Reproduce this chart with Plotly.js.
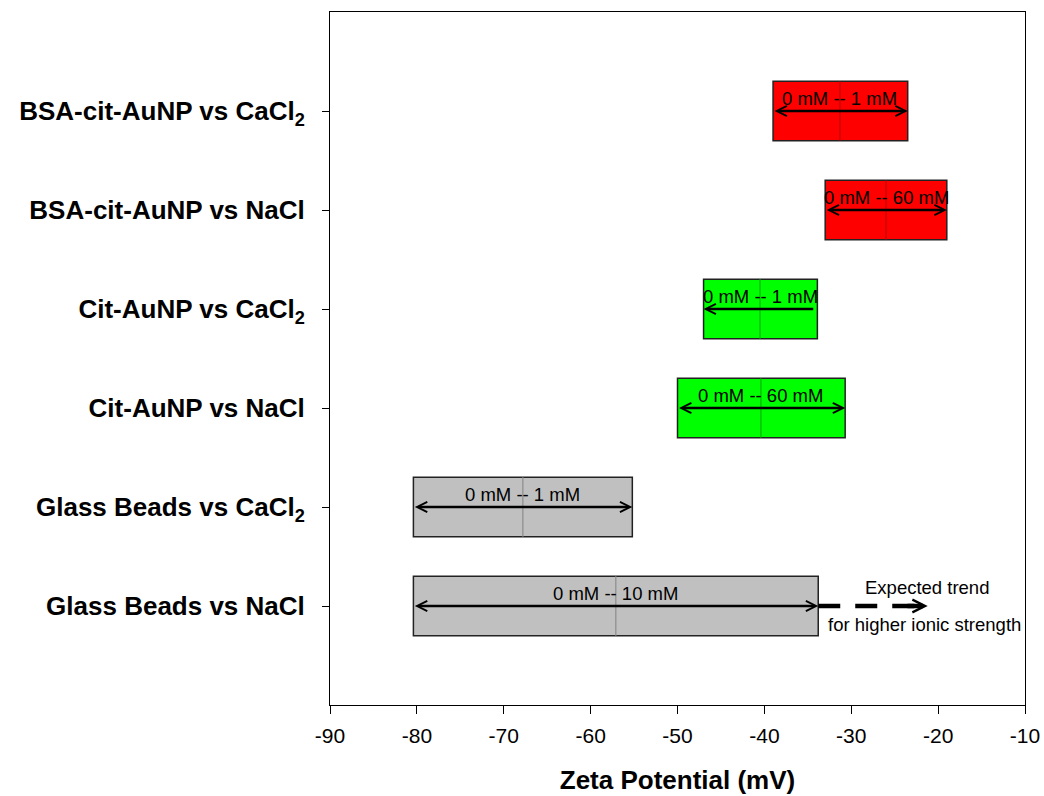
<!DOCTYPE html>
<html>
<head>
<meta charset="utf-8">
<script src="https://cdn.plot.ly/plotly-3.0.1.min.js"></script>
<style>
  html, body { margin: 0; padding: 0; background: #fff; }
  #chart { width: 1044px; height: 796px; }
</style>
</head>
<body>
<div id="chart"></div>
<script>
// Zeta potential ranges for each particle / salt pair (mV), bottom row first
const categories = [
  'Glass Beads vs NaCl',
  'Glass Beads vs CaCl<sub>2</sub>',
  'Cit-AuNP vs NaCl',
  'Cit-AuNP vs CaCl<sub>2</sub>',
  'BSA-cit-AuNP vs NaCl',
  'BSA-cit-AuNP vs CaCl<sub>2</sub>'
];
const zetaLow  = [-80.4, -80.4, -50.0, -47.0, -33.0, -39.0];
const zetaHigh = [-33.8, -55.2, -30.7, -33.9, -19.0, -23.5];
const zetaMid  = [-57.1, -67.8, -40.4, -40.5, -26.0, -31.3];
const rangeLabels = ['0 mM -- 10 mM', '0 mM -- 1 mM', '0 mM -- 60 mM',
                     '0 mM -- 1 mM', '0 mM -- 60 mM', '0 mM -- 1 mM'];
// true = shift runs both ways, false = only towards more negative values
const twoWay = [true, true, true, false, true, true];
// projected trend for the glass beads beyond 10 mM NaCl
const trendFrom = [-33.8];
const trendTo   = [-21.2];
const xTicks = [-90, -80, -70, -60, -50, -40, -30, -20, -10];

const fillColors = ['#c0c0c0', '#c0c0c0', '#00ff00', '#00ff00', '#ff0000', '#ff0000'];
const midColors  = ['#8c8c8c', '#8c8c8c', '#00b400', '#00b400', '#c00000', '#c00000'];

const FONT = 'Arial, Liberation Sans, sans-serif';
const pos = categories.map((_, i) => i);
const barW = 0.6;

const traces = [{
  type: 'bar',
  orientation: 'h',
  y: pos,
  base: zetaLow,
  x: zetaHigh.map((h, i) => h - zetaLow[i]),
  width: barW,
  marker: { color: fillColors, line: { color: '#222', width: 1.5 } },
  hoverinfo: 'skip'
}];

// centre line of every box
pos.forEach((p, i) => {
  traces.push({
    type: 'scatter', mode: 'lines',
    x: [zetaMid[i], zetaMid[i]],
    y: [p - barW / 2, p + barW / 2],
    line: { color: midColors[i], width: 1.2 },
    hoverinfo: 'skip'
  });
});

// dashed trend line
traces.push({
  type: 'scatter', mode: 'lines',
  x: [trendFrom[0], trendTo[0] - 1.0],
  y: [0, 0],
  line: { color: '#000', width: 4.5, dash: '22px,15px' },
  hoverinfo: 'skip'
});

const annotations = [];
pos.forEach((p, i) => {
  // range arrow across the box
  annotations.push({
    x: twoWay[i] ? zetaHigh[i] : zetaLow[i],
    y: p,
    ax: twoWay[i] ? zetaLow[i] : zetaHigh[i] - 0.3,
    ay: p,
    xref: 'x', yref: 'y', axref: 'x', ayref: 'y',
    text: '',
    showarrow: true,
    arrowhead: 5, arrowsize: 0.8, arrowwidth: 2.5,
    startarrowhead: 5, startarrowsize: 0.8,
    arrowside: twoWay[i] ? 'end+start' : 'end',
    arrowcolor: '#000'
  });
  // concentration range text
  annotations.push({
    x: zetaMid[i], y: p, xref: 'x', yref: 'y',
    text: rangeLabels[i],
    showarrow: false,
    yshift: 13,
    font: { family: FONT, size: 18.5, color: '#000' }
  });
});

// head of the trend arrow
annotations.push({
  x: trendTo[0], y: 0, ax: trendTo[0] - 2.5, ay: 0,
  xref: 'x', yref: 'y', axref: 'x', ayref: 'y',
  text: '', showarrow: true,
  arrowhead: 5, arrowsize: 0.55, arrowwidth: 4.5, arrowcolor: '#000'
});
annotations.push({
  x: -21.3, y: 0, xref: 'x', yref: 'y', text: 'Expected trend',
  showarrow: false, yshift: 19,
  font: { family: FONT, size: 18.5, color: '#000' }
});
annotations.push({
  x: -21.6, y: 0, xref: 'x', yref: 'y', text: 'for higher ionic strength',
  showarrow: false, yshift: -18,
  font: { family: FONT, size: 18.5, color: '#000' }
});

const layout = {
  width: 1044, height: 796,
  margin: { l: 330, r: 19, t: 12, b: 91 },
  paper_bgcolor: '#fff', plot_bgcolor: '#fff',
  showlegend: false,
  hovermode: false,
  xaxis: {
    range: [-90, -10],
    tickvals: xTicks,
    ticktext: xTicks.map(String),
    ticks: 'outside', ticklen: 8, tickwidth: 1, tickcolor: '#000',
    ticklabelstandoff: 4,
    showline: true, linecolor: '#000', linewidth: 1, mirror: true,
    showgrid: false, zeroline: false,
    tickfont: { family: FONT, size: 21, color: '#000' },
    title: {
      text: 'Zeta Potential (mV)',
      standoff: 24,
      font: { family: FONT, size: 26, color: '#000', weight: 'bold' }
    }
  },
  yaxis: {
    range: [-1, 6],
    tickvals: pos,
    ticktext: categories,
    ticks: 'outside', ticklen: 7, tickwidth: 1, tickcolor: '#000',
    ticklabelstandoff: 12,
    showline: true, linecolor: '#000', linewidth: 1, mirror: true,
    showgrid: false, zeroline: false,
    tickfont: { family: FONT, size: 26, color: '#000', weight: 'bold' }
  },
  annotations: annotations
};

Plotly.newPlot('chart', traces, layout, { displayModeBar: false, staticPlot: true });
</script>
</body>
</html>
